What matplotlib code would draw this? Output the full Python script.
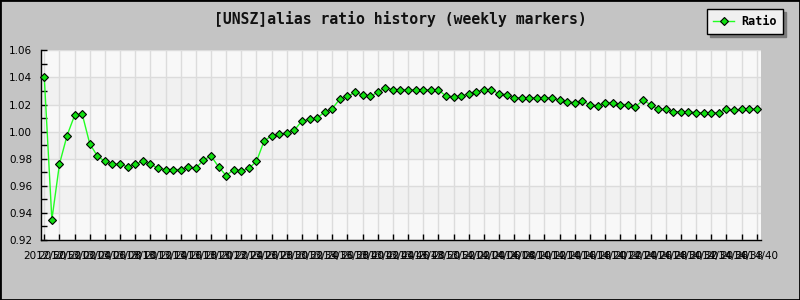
import matplotlib
matplotlib.use("Agg")
import matplotlib.pyplot as plt
from matplotlib.patches import Rectangle
from matplotlib.ticker import MultipleLocator, FixedLocator, FormatStrFormatter

title = "[UNSZ]alias ratio history (weekly markers)"
series_name = "Ratio"

ratio = [
    1.040, 0.935, 0.976, 0.997, 1.012, 1.013, 0.991, 0.982, 0.978, 0.976,
    0.976, 0.974, 0.976, 0.978, 0.976, 0.973, 0.972, 0.972, 0.972, 0.974,
    0.973, 0.979, 0.982, 0.974, 0.9675, 0.972, 0.971, 0.973, 0.978, 0.993,
    0.997, 0.998, 0.999, 1.001, 1.008, 1.009, 1.010, 1.0145, 1.017, 1.024,
    1.026, 1.029, 1.027, 1.026, 1.029, 1.0325, 1.031, 1.031,
    1.031, 1.0307, 1.0305, 1.031, 1.0307, 1.0263, 1.0258, 1.0263, 1.028, 1.0295,
    1.031, 1.031, 1.028, 1.0273, 1.025, 1.025, 1.025, 1.025, 1.025, 1.025,
    1.023, 1.022, 1.0214, 1.0224, 1.020, 1.019, 1.0214, 1.0214, 1.020, 1.020,
    1.0185, 1.023, 1.020, 1.0165, 1.0165, 1.0147, 1.0147, 1.0147, 1.014, 1.014,
    1.014, 1.014, 1.0165, 1.0158, 1.0165, 1.0165, 1.0165,
]

week_labels = [
    "2012/50", "2012/52",
    "2013/02", "2013/04", "2013/06", "2013/08", "2013/10", "2013/12", "2013/14",
    "2013/16", "2013/18", "2013/20", "2013/22", "2013/24", "2013/26", "2013/28",
    "2013/30", "2013/32", "2013/34", "2013/36", "2013/38", "2013/40", "2013/42",
    "2013/44", "2013/46", "2013/48", "2013/50", "2013/52",
    "2014/02", "2014/04", "2014/06", "2014/08", "2014/10", "2014/12", "2014/14",
    "2014/16", "2014/18", "2014/20", "2014/22", "2014/24", "2014/26", "2014/28",
    "2014/30", "2014/32", "2014/34", "2014/36", "2014/38", "2014/40",
]

y_ticks = [0.92, 0.94, 0.96, 0.98, 1.00, 1.02, 1.04, 1.06]

W, H = 800, 300
fig = plt.figure(figsize=(W / 100, H / 100), dpi=100, facecolor="#C4C4C4")
fig.patches.append(Rectangle((0, 0), 1, 1, transform=fig.transFigure,
                             fill=False, edgecolor="black", lw=2))

left, right, top, bottom = 40.5, 761, 50.3, 240
ax = fig.add_axes([left / W, 1 - bottom / H, (right - left) / W, (bottom - top) / H])
ax.set_facecolor("#F8F8F8")

x = list(range(len(ratio)))
ax.set_xlim(-0.5, len(ratio) - 1 + 0.57)
ax.set_ylim(y_ticks[0], y_ticks[-1])

for i in range(len(y_ticks) - 1):
    if (len(y_ticks) - 2 - i) % 2 == 1:
        ax.axhspan(y_ticks[i], y_ticks[i + 1], color="#F1F1F1", zorder=0.1, lw=0)

ax.set_axisbelow(True)
ax.grid(True, color="#DCDCDC", lw=1)

for s in ("top", "right"):
    ax.spines[s].set_visible(False)
for s in ("left", "bottom"):
    ax.spines[s].set_color("black")
    ax.spines[s].set_linewidth(1)

ax.xaxis.set_major_locator(FixedLocator(list(range(0, len(ratio), 2))))
ax.set_xticklabels(week_labels)
ax.yaxis.set_major_locator(FixedLocator(y_ticks))
ax.yaxis.set_minor_locator(MultipleLocator(0.01))
ax.yaxis.set_major_formatter(FormatStrFormatter("%.2f"))
ax.tick_params(axis="x", direction="in", length=4, width=1, color="black",
               labelsize=7.5, pad=8, labelcolor="black")
ax.tick_params(axis="y", which="both", direction="in", length=4, width=1,
               color="black", labelsize=7.5, pad=6, labelcolor="black")

ax.plot(x, ratio, color="#22FF22", lw=1, marker="D", ms=4, mfc="#11E011",
        mec="black", mew=0.8, label=series_name, zorder=3, clip_on=False)

fig.text(0.5, 1 - 19 / H, title, ha="center", va="center",
         family="DejaVu Sans Mono", fontsize=10.6, weight="bold", color="#111111")

leg = ax.legend(loc="upper right", bbox_to_anchor=(783 / W, 1 - 9.3 / H),
                bbox_transform=fig.transFigure, frameon=True, fancybox=False,
                edgecolor="black", facecolor="#F0F0F0", framealpha=1,
                shadow={"color": "#7A7A7A", "alpha": 1},
                prop={"family": "DejaVu Sans Mono", "weight": "bold", "size": 8.5},
                borderaxespad=0, handlelength=1.8, handletextpad=0.6, borderpad=0.5)
leg.get_frame().set_linewidth(1)

fig.savefig("out.png", dpi=100, facecolor=fig.get_facecolor())
